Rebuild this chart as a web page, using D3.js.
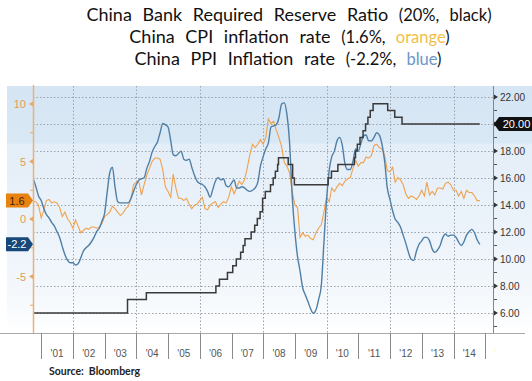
<!DOCTYPE html>
<html><head><meta charset="utf-8">
<script src="https://cdn.jsdelivr.net/npm/d3@7"></script>
<style>body{margin:0;background:#fff}svg{display:block}</style>
</head><body>
<svg id="c" width="532" height="381"></svg>
<script>
// ---------- DATA ----------
// monthly observations, first = Sep 2000, last = Oct 2014 (plotted at month end)
const firstYear = 2000, firstMonth = 9;
const cpi = [
 1.5,1.5,1.2,0.1,
 0.8,1.6,1.7,1.4,1.5,1.4,1.0,0.2,0.6,0.0,-0.3,-0.8,
 -0.1,-0.6,-1.2,-1.0,-0.8,-0.9,-0.7,-0.7,-0.8,-0.7,-0.4,0.2,
 0.4,0.6,1.1,0.9,0.6,0.3,0.5,0.9,1.1,1.8,3.0,3.2,
 3.2,2.1,3.0,3.8,4.4,5.0,5.3,5.3,5.2,4.3,2.8,2.4,
 1.9,3.9,2.7,1.8,1.8,1.6,1.8,1.3,0.9,1.2,1.3,1.6,
 1.9,0.9,0.8,1.2,1.4,1.5,1.0,1.3,1.5,1.4,1.9,2.8,
 2.2,2.7,3.3,3.0,3.4,4.4,5.6,6.5,6.2,6.5,6.9,6.5,
 7.1,8.7,8.3,8.5,7.7,7.1,6.3,4.9,4.6,4.0,2.4,1.2,
 1.0,-1.6,-1.2,-1.5,-1.4,-1.7,-1.8,-1.2,-0.8,-0.5,0.6,1.9,
 1.5,2.7,2.4,2.8,3.1,2.9,3.3,3.5,3.6,4.4,5.1,4.6,
 4.9,4.9,5.4,5.3,5.5,6.4,6.5,6.2,6.1,5.5,4.2,4.1,
 4.5,3.2,3.6,3.4,3.0,2.2,1.8,2.0,1.9,1.7,2.0,2.5,
 2.0,3.2,2.1,2.4,2.1,2.7,2.7,2.6,3.1,3.2,3.0,2.5,
 2.5,2.0,2.4,1.8,2.5,2.3,2.3,2.0,1.6,1.6
];
const ppi = [
 3.5,2.8,2.0,1.6,
 0.9,0.4,0.1,-0.3,-0.6,-1.1,-1.6,-2.4,-3.1,-3.6,-3.8,-3.8,
 -4.0,-3.9,-3.4,-2.8,-2.5,-2.3,-2.0,-1.6,-1.1,-0.8,-0.2,0.5,
 2.4,4.0,4.5,2.8,1.5,1.4,1.4,1.4,1.4,1.8,2.4,3.0,
 3.4,3.5,3.6,4.4,5.0,5.8,6.3,6.7,7.5,8.3,8.2,8.0,
 6.8,5.6,5.5,5.7,5.9,5.2,5.1,5.2,4.5,3.8,3.3,3.1,
 3.0,2.8,2.4,1.9,2.6,3.3,3.6,3.4,3.5,2.9,2.8,3.1,
 3.4,2.7,2.7,2.8,2.7,2.5,2.4,2.5,2.7,3.2,4.6,5.4,
 6.1,6.6,8.0,8.1,8.2,8.8,10.0,10.1,9.1,6.6,2.0,-1.1,
 -3.3,-4.5,-6.0,-6.6,-7.2,-7.8,-8.2,-7.9,-7.0,-5.8,-2.1,1.7,
 4.3,5.4,5.9,6.8,7.1,6.4,4.8,4.3,4.3,5.0,6.1,5.9,
 6.6,7.2,7.3,6.8,6.8,7.1,7.5,7.3,6.5,5.0,2.7,1.7,
 0.7,0.0,-0.3,-0.7,-1.4,-2.1,-2.9,-3.5,-3.6,-2.8,-2.2,-1.9,
 -1.6,-1.6,-1.9,-2.6,-2.9,-2.7,-2.3,-1.6,-1.3,-1.5,-1.4,-1.4,
 -1.6,-2.0,-2.3,-2.0,-1.4,-1.1,-0.9,-1.2,-1.8,-2.2
];
const rrrDates = ["2000-09-30","2003-09-21","2004-04-25","2006-07-05","2006-08-15","2006-11-15",
 "2007-01-15","2007-02-25","2007-04-16","2007-05-15","2007-06-05","2007-08-15","2007-09-25",
 "2007-10-25","2007-11-26","2007-12-25","2008-01-25","2008-03-25","2008-04-25","2008-05-20",
 "2008-06-15","2008-06-25","2008-10-15","2008-12-05","2008-12-25","2010-01-18","2010-02-25",
 "2010-05-10","2010-11-16","2010-11-29","2010-12-20","2011-01-20","2011-02-24","2011-03-25",
 "2011-04-21","2011-05-18","2011-06-20","2011-12-05","2012-02-24","2012-05-18","2014-10-31"];
const rrrValues = [6,7,7.5,8,8.5,9,9.5,10,10.5,11,11.5,12,12.5,13,13.5,14.5,15,15.5,16,16.5,
 17,17.5,17,16,15.5,16,16.5,17,17.5,18,18.5,19,19.5,20,20.5,21,21.5,21,20.5,20,20];
const leftTicks = [10,5,0,-5];
const leftMinor = [7.5,2.5,-2.5,-7.5];
const rightTicks = [22,20,18,16,14,12,10,8,6];
const rightMinor = [21,19,17,15,13,11,9,7,5];
const gridYears = [2002,2004,2006,2008,2010,2012,2014];
const yearLabels = ["'01","'02","'03","'04","'05","'06","'07","'08","'09","'10","'11","'12","'13","'14","'15"];
const firstLabelYear = 2001;
const lastCPI = "1.6", lastPPI = "-2.2", lastRRR = "20.00";
const titles = [
 ["China Bank Required Reserve Ratio ", "(20%, ", "black", ")", null],
 ["China CPI inflation rate ", "(1.6%, ", "orange", ")", "#f0c04a"],
 ["China PPI Inflation rate ", "(-2.2%, ", "blue", ")", "#6b96c8"]
];
const sourceText = "Source:  Bloomberg";

// ---------- LAYOUT ----------
const svg = d3.select("#c");
const P = {l:33, r:493, t:86, b:333};
const x = d3.scaleTime().domain([new Date(2001,0,1), new Date(2015,0,1)]).range([41.3, 485.2]);
const yL = d3.scaleLinear().domain([0,10]).range([219,104]);
const yR = d3.scaleLinear().domain([6,22]).range([313,97]);
const monthDate = i => new Date(firstYear, firstMonth + i, 0);

const defs = svg.append("defs");
const g = defs.append("linearGradient").attr("id","bg").attr("x1",0).attr("x2",0).attr("y1",0).attr("y2",1);
[[0,"#d5e5f3"],[0.23,"#d9e8f5"],[0.235,"#e4eef8"],[0.6,"#ecf3fa"],[0.84,"#f4f8fc"],[1,"#ffffff"]]
 .forEach(([o,c])=>g.append("stop").attr("offset",o).attr("stop-color",c));
defs.append("clipPath").attr("id","plot").append("rect")
 .attr("x",P.l).attr("y",P.t).attr("width",P.r-P.l).attr("height",P.b-P.t);
defs.append("clipPath").attr("id","lab").append("rect")
 .attr("x",0).attr("y",P.b).attr("width",P.r+2).attr("height",40);

svg.append("rect").attr("x",7).attr("y",P.t).attr("width",532-7).attr("height",P.b-P.t).attr("fill","url(#bg)");

// grid
svg.append("g").selectAll("line").data(rightTicks).join("line")
 .attr("x1",P.l).attr("x2",P.r).attr("y1",d=>yR(d)+0.5).attr("y2",d=>yR(d)+0.5)
 .attr("stroke","#9aa3ad").attr("stroke-width",1).attr("stroke-dasharray","1.5,2");
svg.append("g").selectAll("line").data(gridYears).join("line")
 .attr("x1",d=>Math.round(x(new Date(d,0,1)))+0.5).attr("x2",d=>Math.round(x(new Date(d,0,1)))+0.5)
 .attr("y1",P.t).attr("y2",P.b).attr("stroke","#9aa3ad").attr("stroke-dasharray","1.5,2");

// lines
const plot = svg.append("g").attr("clip-path","url(#plot)");
plot.append("path").datum(cpi).attr("fill","none").attr("stroke","#efa24e").attr("stroke-width",1.1)
 .attr("d", d3.line().x((d,i)=>x(monthDate(i))).y(d=>yL(d)));
plot.append("path").datum(ppi).attr("fill","none").attr("stroke","#4f7fa6").attr("stroke-width",1.4)
 .attr("d", d3.line().x((d,i)=>x(monthDate(i))).y(d=>yL(d)).curve(d3.curveMonotoneX));
const rrr = rrrDates.map((d,i)=>({d:d3.timeParse("%Y-%m-%d")(d), v:rrrValues[i]}));
plot.append("path").datum(rrr).attr("fill","none").attr("stroke","#3a3a3a").attr("stroke-width",1.5)
 .attr("d", d3.line().x(d=>x(d.d)).y(d=>yR(d.v)).curve(d3.curveStepAfter));

// left axis
svg.append("line").attr("x1",P.l+0.5).attr("x2",P.l+0.5).attr("y1",P.t-1).attr("y2",P.b)
 .attr("stroke","#e9b27a").attr("stroke-width",1.5);
const la = svg.append("g");
leftTicks.forEach(v=>{
  const yy=yL(v);
  la.append("path").attr("d",`M${P.l},${yy-2.5}L${P.l-4},${yy}L${P.l},${yy+2.5}Z`).attr("fill","#e9a866");
  la.append("text").attr("x",P.l-7).attr("y",yy+4).attr("text-anchor","end")
   .attr("font-family","Liberation Sans, Arial").attr("font-size",11).attr("fill","#e59a55").text(v);
});
leftMinor.forEach(v=>la.append("line").attr("x1",P.l-3).attr("x2",P.l).attr("y1",yL(v)).attr("y2",yL(v)).attr("stroke","#e9a866"));

// right axis
svg.append("line").attr("x1",P.r+0.5).attr("x2",P.r+0.5).attr("y1",P.t).attr("y2",P.b)
 .attr("stroke","#7f8890").attr("stroke-width",1);
const ra = svg.append("g");
rightTicks.forEach(v=>{
  const yy=yR(v);
  ra.append("path").attr("d",`M${P.r+1},${yy-2.5}L${P.r+5},${yy}L${P.r+1},${yy+2.5}Z`).attr("fill","#333");
  if (v!==20) ra.append("text").attr("x",P.r+7).attr("y",yy+3.5)
   .attr("font-family","Liberation Sans, Arial").attr("font-size",10).attr("fill","#333").text(v.toFixed(2));
});
rightMinor.forEach(v=>ra.append("line").attr("x1",P.r+1).attr("x2",P.r+4).attr("y1",yR(v)).attr("y2",yR(v)).attr("stroke","#555"));

// badges
function badge(xTip, yy, w, dir, fill, tc, txt){
  const h=7;
  const xb = xTip - dir*5, xe = xTip - dir*w;
  svg.append("path").attr("d",`M${xTip},${yy}L${xb},${yy-h}L${xe},${yy-h}L${xe},${yy+h}L${xb},${yy+h}Z`).attr("fill",fill);
  svg.append("text").attr("x",(xb+xe)/2).attr("y",yy+4).attr("text-anchor","middle")
   .attr("font-family","Liberation Sans, Arial").attr("font-size",11).attr("fill",tc).text(txt);
}
badge(P.l, yL(+lastCPI), 27, 1, "#e8830f", "#4a2200", lastCPI);
badge(P.l, yL(+lastPPI), 27, 1, "#16497a", "#ffffff", lastPPI);
badge(P.r+1, yR(+lastRRR), 40, -1, "#111111", "#ffffff", lastRRR);

// bottom axis
svg.append("line").attr("x1",0).attr("x2",525).attr("y1",P.b+0.5).attr("y2",P.b+0.5).attr("stroke","#a9a9a9");
const years = yearLabels.map((l,i)=>firstLabelYear+i);
svg.append("g").selectAll("line").data(years).join("line")
 .attr("x1",d=>Math.round(x(new Date(d,0,1)))+0.5).attr("x2",d=>Math.round(x(new Date(d,0,1)))+0.5)
 .attr("y1",P.b).attr("y2",P.b+26).attr("stroke","#8a8a8a");
svg.append("g").attr("clip-path","url(#lab)").selectAll("text").data(yearLabels).join("text")
 .attr("x",(d,i)=>x(new Date(firstLabelYear+i,6,1))).attr("y",P.b+24).attr("text-anchor","middle")
 .attr("font-family","Liberation Sans, Arial").attr("font-size",10).attr("fill","#555").text(d=>d);

// source
svg.append("text").attr("x",49).attr("y",375).attr("font-family","Lato, Open Sans, sans-serif")
 .attr("font-weight","bold").attr("font-size",10.5).attr("fill","#222").attr("xml:space","preserve").text(sourceText);

// titles: fixed size, widened with word spacing to match reference widths
const targets = [[289,20.5,428],[289.5,42.7,335],[288,65,320]];
titles.forEach((t,i)=>{
  const [cx,by,tw]=targets[i];
  const tx = svg.append("text").attr("x",cx).attr("y",by).attr("text-anchor","middle")
    .attr("font-family","Lato, Open Sans, sans-serif").attr("fill","#111").attr("xml:space","preserve");
  tx.append("tspan").attr("font-size",18).text(t[0]);
  tx.append("tspan").attr("font-size",16.5).text(t[1]);
  tx.append("tspan").attr("font-size",16.5).attr("fill",t[4]||"#111").text(t[2]);
  tx.append("tspan").attr("font-size",16.5).text(t[3]);
  const w = tx.node().getComputedTextLength();
  const nSpaces = (t.slice(0,4).join("").match(/ /g)||[]).length;
  if (w < tw && nSpaces) tx.attr("word-spacing", Math.min(6,(tw-w)/nSpaces));
});
</script>
</body></html>
